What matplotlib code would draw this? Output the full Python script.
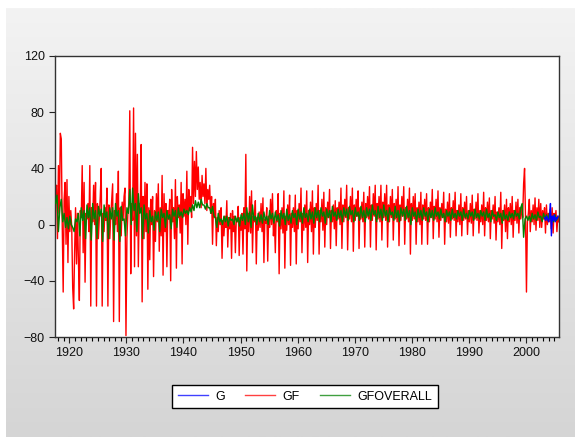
import numpy as np
import matplotlib
matplotlib.use("Agg")
import matplotlib.pyplot as plt
from matplotlib.colors import LinearSegmentedColormap
from matplotlib.ticker import MultipleLocator

plt.rcParams["font.family"] = ["Liberation Sans", "DejaVu Sans"]
plt.rcParams["font.size"] = 9

# ----------------------------------------------------------------------
# Series: GF at ~6 points a year, GFOVERALL at ~4,
# G only at the very end (2003-2005). Rows are years 1918..2005.
# ----------------------------------------------------------------------
GF_START = 1917.6
GF = [
    22, 28, -10, 42, 8, 65,       # 1918
    61, 0, -48, 18, 30, -14,      # 1919
    32, -27, 20, -5, 10, -2,      # 1920
    -45, -60, -20, 12, -28, 8,    # 1921
    -25, -54, 10, 5, 42, -20,     # 1922
    30, -41, 8, 4, 15, -5,        # 1923
    42, -58, 12, 2, 28, 0,        # 1924
    30, -58, 15, -10, 5, 20,      # 1925
    40, -58, 8, -5, 12, 3,        # 1926
    26, -58, 14, -10, 6, 18,      # 1927
    29, -69, 10, 0, 22, -5,       # 1928
    38, -69, 12, -8, 16, 4,       # 1929
    20, 26, -79, -10, 8, 15,      # 1930
    81, -35, 15, 3, 83, -30,      # 1931
    65, -8, 50, -30, 15, 10,      # 1932
    57, -55, 20, -10, 30, -5,     # 1933
    29, -46, 12, -25, 18, 0,      # 1934
    20, -37, 10, -12, 22, 2,      # 1935
    29, -19, 12, -8, 35, -36,     # 1936
    22, -5, 15, -30, 10, 4,       # 1937
    18, -40, 25, 2, 12, -10,      # 1938
    32, -31, 20, 5, 14, -6,       # 1939
    30, -28, 22, 6, 18, 0,        # 1940
    38, -14, 25, 10, 20, 5,       # 1941
    55, 15, 45, 20, 52, 25,       # 1942
    41, 18, 30, 12, 35, 20,       # 1943
    29, 15, 40, 10, 25, 18,       # 1944
    28, 8, 20, -14, 15, 5,        # 1945
    18, -15, 5, -5, 10, 0,        # 1946
    12, -24, 3, -8, 6, -2,        # 1947
    17, -16, 5, -3, 8, -24,       # 1948
    10, -5, 6, -20, 4, 2,         # 1949
    13, -22, 5, -4, 8, -21,       # 1950
    12, -3, 50, -33, 8, -5,       # 1951
    20, -6, 24, -20, 6, 2,        # 1952
    17, -28, 5, -4, 9, -2,        # 1953
    15, -5, 19, -27, 4, 1,        # 1954
    12, -26, 6, -2, 18, 0,        # 1955
    22, -8, 4, -20, 10, 2,        # 1956
    22, -35, 8, -3, 12, -6,       # 1957
    24, -31, 6, -4, 14, 0,        # 1958
    21, -29, 8, -2, 12, -5,       # 1959
    21, -28, 10, -3, 15, 2,       # 1960
    26, -20, 8, -4, 14, -2,       # 1961
    24, -27, 10, 0, 16, -5,       # 1962
    24, -21, 12, -2, 15, 3,       # 1963
    28, -21, 10, 2, 18, -4,       # 1964
    23, -16, 12, 0, 16, 5,        # 1965
    25, -17, 10, 2, 14, -3,       # 1966
    17, -15, 12, 4, 16, 0,        # 1967
    26, -17, 14, 2, 18, 5,        # 1968
    28, -18, 12, 4, 20, 2,        # 1969
    26, -19, 14, 3, 18, 6,        # 1970
    24, -17, 12, 4, 16, 2,        # 1971
    23, -16, 15, 5, 20, 4,        # 1972
    27, -16, 14, 3, 22, 6,        # 1973
    28, -18, 15, 4, 20, 2,        # 1974
    28, -11, 16, 5, 22, 3,        # 1975
    28, -16, 14, 2, 20, 5,        # 1976
    25, -11, 15, 4, 18, 2,        # 1977
    27, -15, 14, 3, 20, 6,        # 1978
    27, -14, 12, 4, 18, 2,        # 1979
    26, -21, 15, 3, 20, 4,        # 1980
    22, -14, 12, 2, 16, 0,        # 1981
    23, -14, 14, 4, 18, 3,        # 1982
    22, -14, 12, 2, 16, 5,        # 1983
    25, -10, 13, 4, 18, 2,        # 1984
    24, -9, 12, 3, 15, 5,         # 1985
    23, -14, 11, 2, 16, 1,        # 1986
    22, -9, 12, 4, 17, 3,         # 1987
    23, -8, 10, 2, 14, 0,         # 1988
    22, -8, 12, 3, 16, 4,         # 1989
    20, -7, 10, 2, 15, 1,         # 1990
    21, -8, 11, 4, 16, 3,         # 1991
    22, -6, 10, 2, 14, 0,         # 1992
    23, -8, 12, 3, 16, 2,         # 1993
    19, -10, 10, 4, 14, 1,        # 1994
    20, -11, 9, 2, 12, 0,         # 1995
    23, -17, 10, 3, 14, -5,       # 1996
    18, -10, 12, 2, 15, 0,        # 1997
    20, -9, 10, 3, 16, 1,         # 1998
    18, -6, 12, 4, 14, 5,         # 1999
    29, 40, 5, -48, 2, 8,         # 2000
    18, -5, 10, 2, 14, 0,         # 2001
    19, -4, 12, 3, 18, -2,        # 2002
    15, -2, 10, 4, 12, -6,        # 2003
    14, 0, 8, 2, 11, -3,          # 2004
    12, -6, 8, 3, 10, -5, 6, 2,   # 2005
]

GFOVERALL_START = 1917.6
GFOVERALL = [
    15, 21, -5, 12,   # 1918
    18, 2, 8, -2,     # 1919
    5, -3, 6, 0,      # 1920
    -2, -5, 4, 2,     # 1921
    8, -8, 12, 3,     # 1922
    10, -10, 14, 5,   # 1923
    12, -11, 15, 4,   # 1924
    10, -10, 13, 6,   # 1925
    11, -12, 14, 5,   # 1926
    9, -10, 12, 4,    # 1927
    12, -11, 15, 6,   # 1928
    10, -12, 13, 3,   # 1929
    4, -8, 12, 8,     # 1930
    25, 0, 26, 10,    # 1931
    15, -5, 22, 8,    # 1932
    12, -10, 14, 4,   # 1933
    8, -6, 10, 2,     # 1934
    6, -4, 9, 3,      # 1935
    9, -5, 11, 5,     # 1936
    8, -2, 10, 4,     # 1937
    7, -3, 11, 6,     # 1938
    10, -2, 12, 6,    # 1939
    9, 5, 11, 8,      # 1940
    10, 7, 12, 9,     # 1941
    14, 10, 17, 12,   # 1942
    16, 12, 18, 14,   # 1943
    14, 11, 15, 12,   # 1944
    12, 8, 13, 6,     # 1945
    5, -2, 8, 2,      # 1946
    4, 0, 6, 2,       # 1947
    6, -1, 5, 3,      # 1948
    4, 0, 6, 2,       # 1949
    5, -1, 7, 3,      # 1950
    8, 0, 12, 2,      # 1951
    9, -2, 14, 3,     # 1952
    6, 0, 8, 2,       # 1953
    7, 1, 9, 3,       # 1954
    6, 0, 10, 4,      # 1955
    8, 1, 9, 3,       # 1956
    7, -1, 10, 4,     # 1957
    8, 0, 11, 3,      # 1958
    7, 1, 10, 5,      # 1959
    8, 0, 11, 4,      # 1960
    9, 1, 12, 5,      # 1961
    8, 2, 11, 4,      # 1962
    9, 1, 12, 5,      # 1963
    10, 2, 12, 6,     # 1964
    9, 1, 11, 5,      # 1965
    10, 2, 13, 6,     # 1966
    9, 3, 11, 5,      # 1967
    10, 2, 12, 6,     # 1968
    11, 3, 13, 7,     # 1969
    10, 2, 12, 6,     # 1970
    9, 3, 13, 5,      # 1971
    10, 2, 12, 6,     # 1972
    11, 3, 14, 7,     # 1973
    10, 2, 13, 5,     # 1974
    11, 3, 14, 6,     # 1975
    10, 2, 12, 7,     # 1976
    9, 3, 13, 5,      # 1977
    10, 2, 12, 6,     # 1978
    11, 3, 13, 5,     # 1979
    10, 0, 12, 6,     # 1980
    9, 2, 11, 5,      # 1981
    10, 3, 12, 6,     # 1982
    9, 2, 11, 5,      # 1983
    10, 3, 12, 6,     # 1984
    9, 4, 11, 5,      # 1985
    8, 2, 10, 6,      # 1986
    9, 3, 11, 5,      # 1987
    8, 4, 10, 6,      # 1988
    9, 3, 11, 5,      # 1989
    8, 4, 10, 6,      # 1990
    9, 3, 11, 5,      # 1991
    8, 4, 10, 6,      # 1992
    9, 3, 11, 5,      # 1993
    8, 2, 10, 6,      # 1994
    7, 3, 9, 5,       # 1995
    8, 1, 10, 4,      # 1996
    7, 3, 9, 5,       # 1997
    8, 4, 10, 6,      # 1998
    8, 4, 12, 15,     # 1999
    -9, 4, 6, 3,      # 2000
    6, 2, 8, 4,       # 2001
    7, 3, 9, 5,       # 2002
    6, 2, 8, 4,       # 2003
    7, 3, 8, 4,       # 2004
    6, 2, 7, 3, 5,    # 2005
]

G_START = 2003.3
G = [5, 3, 6, 4, 2, 5, 15, -8, 6, 3, 7, 2, 5, 4, 6]

SERIES_COLORS = {"G": "#0000ff", "GF": "#ff0000", "GFOVERALL": "#008000"}
Y_TICKS = [-80, -40, 0, 40, 80, 120]
X_TICKS = [1920, 1930, 1940, 1950, 1960, 1970, 1980, 1990, 2000]


def series_x(start, values, per_year):
    return start + np.arange(len(values)) / per_year


fig = plt.figure(figsize=(5.75, 4.37), dpi=100)
fig.patch.set_facecolor("white")

# grey gradient panel behind everything (leaves a thin white strip top/left)
bg = fig.add_axes([6 / 575, 0, 1 - 6 / 575, 1 - 8 / 437], zorder=-10)
grad = np.linspace(0, 1, 256).reshape(-1, 1)
cmap = LinearSegmentedColormap.from_list("panel", ["#f3f3f3", "#d5d5d5"])
bg.imshow(grad, aspect="auto", cmap=cmap, extent=[0, 1, 1, 0])
bg.set_axis_off()

ax = fig.add_axes([55 / 575, 1 - 337 / 437, 504 / 575, 281 / 437])
ax.set_facecolor("white")

x_gf = series_x(GF_START, GF, 6)
x_go = series_x(GFOVERALL_START, GFOVERALL, 4)
x_g = series_x(G_START, G, 6)

l_g, = ax.plot(x_g, G, color=SERIES_COLORS["G"], lw=1.0, zorder=4, label="G")
l_gf, = ax.plot(x_gf, GF, color=SERIES_COLORS["GF"], lw=1.0, zorder=2,
                label="GF")
l_go, = ax.plot(x_go, GFOVERALL, color=SERIES_COLORS["GFOVERALL"], lw=1.0,
                zorder=3, label="GFOVERALL")

ax.set_xlim(1917.5, 2005.8)
ax.set_ylim(-80, 120)
ax.set_yticks(Y_TICKS)
ax.set_xticks(X_TICKS)
ax.xaxis.set_minor_locator(MultipleLocator(1))
ax.tick_params(axis="both", direction="out", length=4, width=0.8,
               colors="#222222", labelsize=9, labelcolor="#111111")
ax.tick_params(axis="x", which="minor", direction="out", length=3, width=0.8)
ax.tick_params(axis="x", pad=3)
for sp in ax.spines.values():
    sp.set_color("#333333")
    sp.set_linewidth(1.0)

leg = fig.legend(handles=[l_g, l_gf, l_go], loc="center",
                 bbox_to_anchor=(305 / 575, 1 - 396.5 / 437), ncol=3,
                 frameon=True, fancybox=False, edgecolor="black",
                 framealpha=1, handlelength=2.4, columnspacing=1.6,
                 handletextpad=0.6, borderpad=0.45, fontsize=9)
leg.get_frame().set_linewidth(1.0)
for h in leg.legend_handles:
    h.set_alpha(0.75)

fig.savefig("out.png", dpi=100)
